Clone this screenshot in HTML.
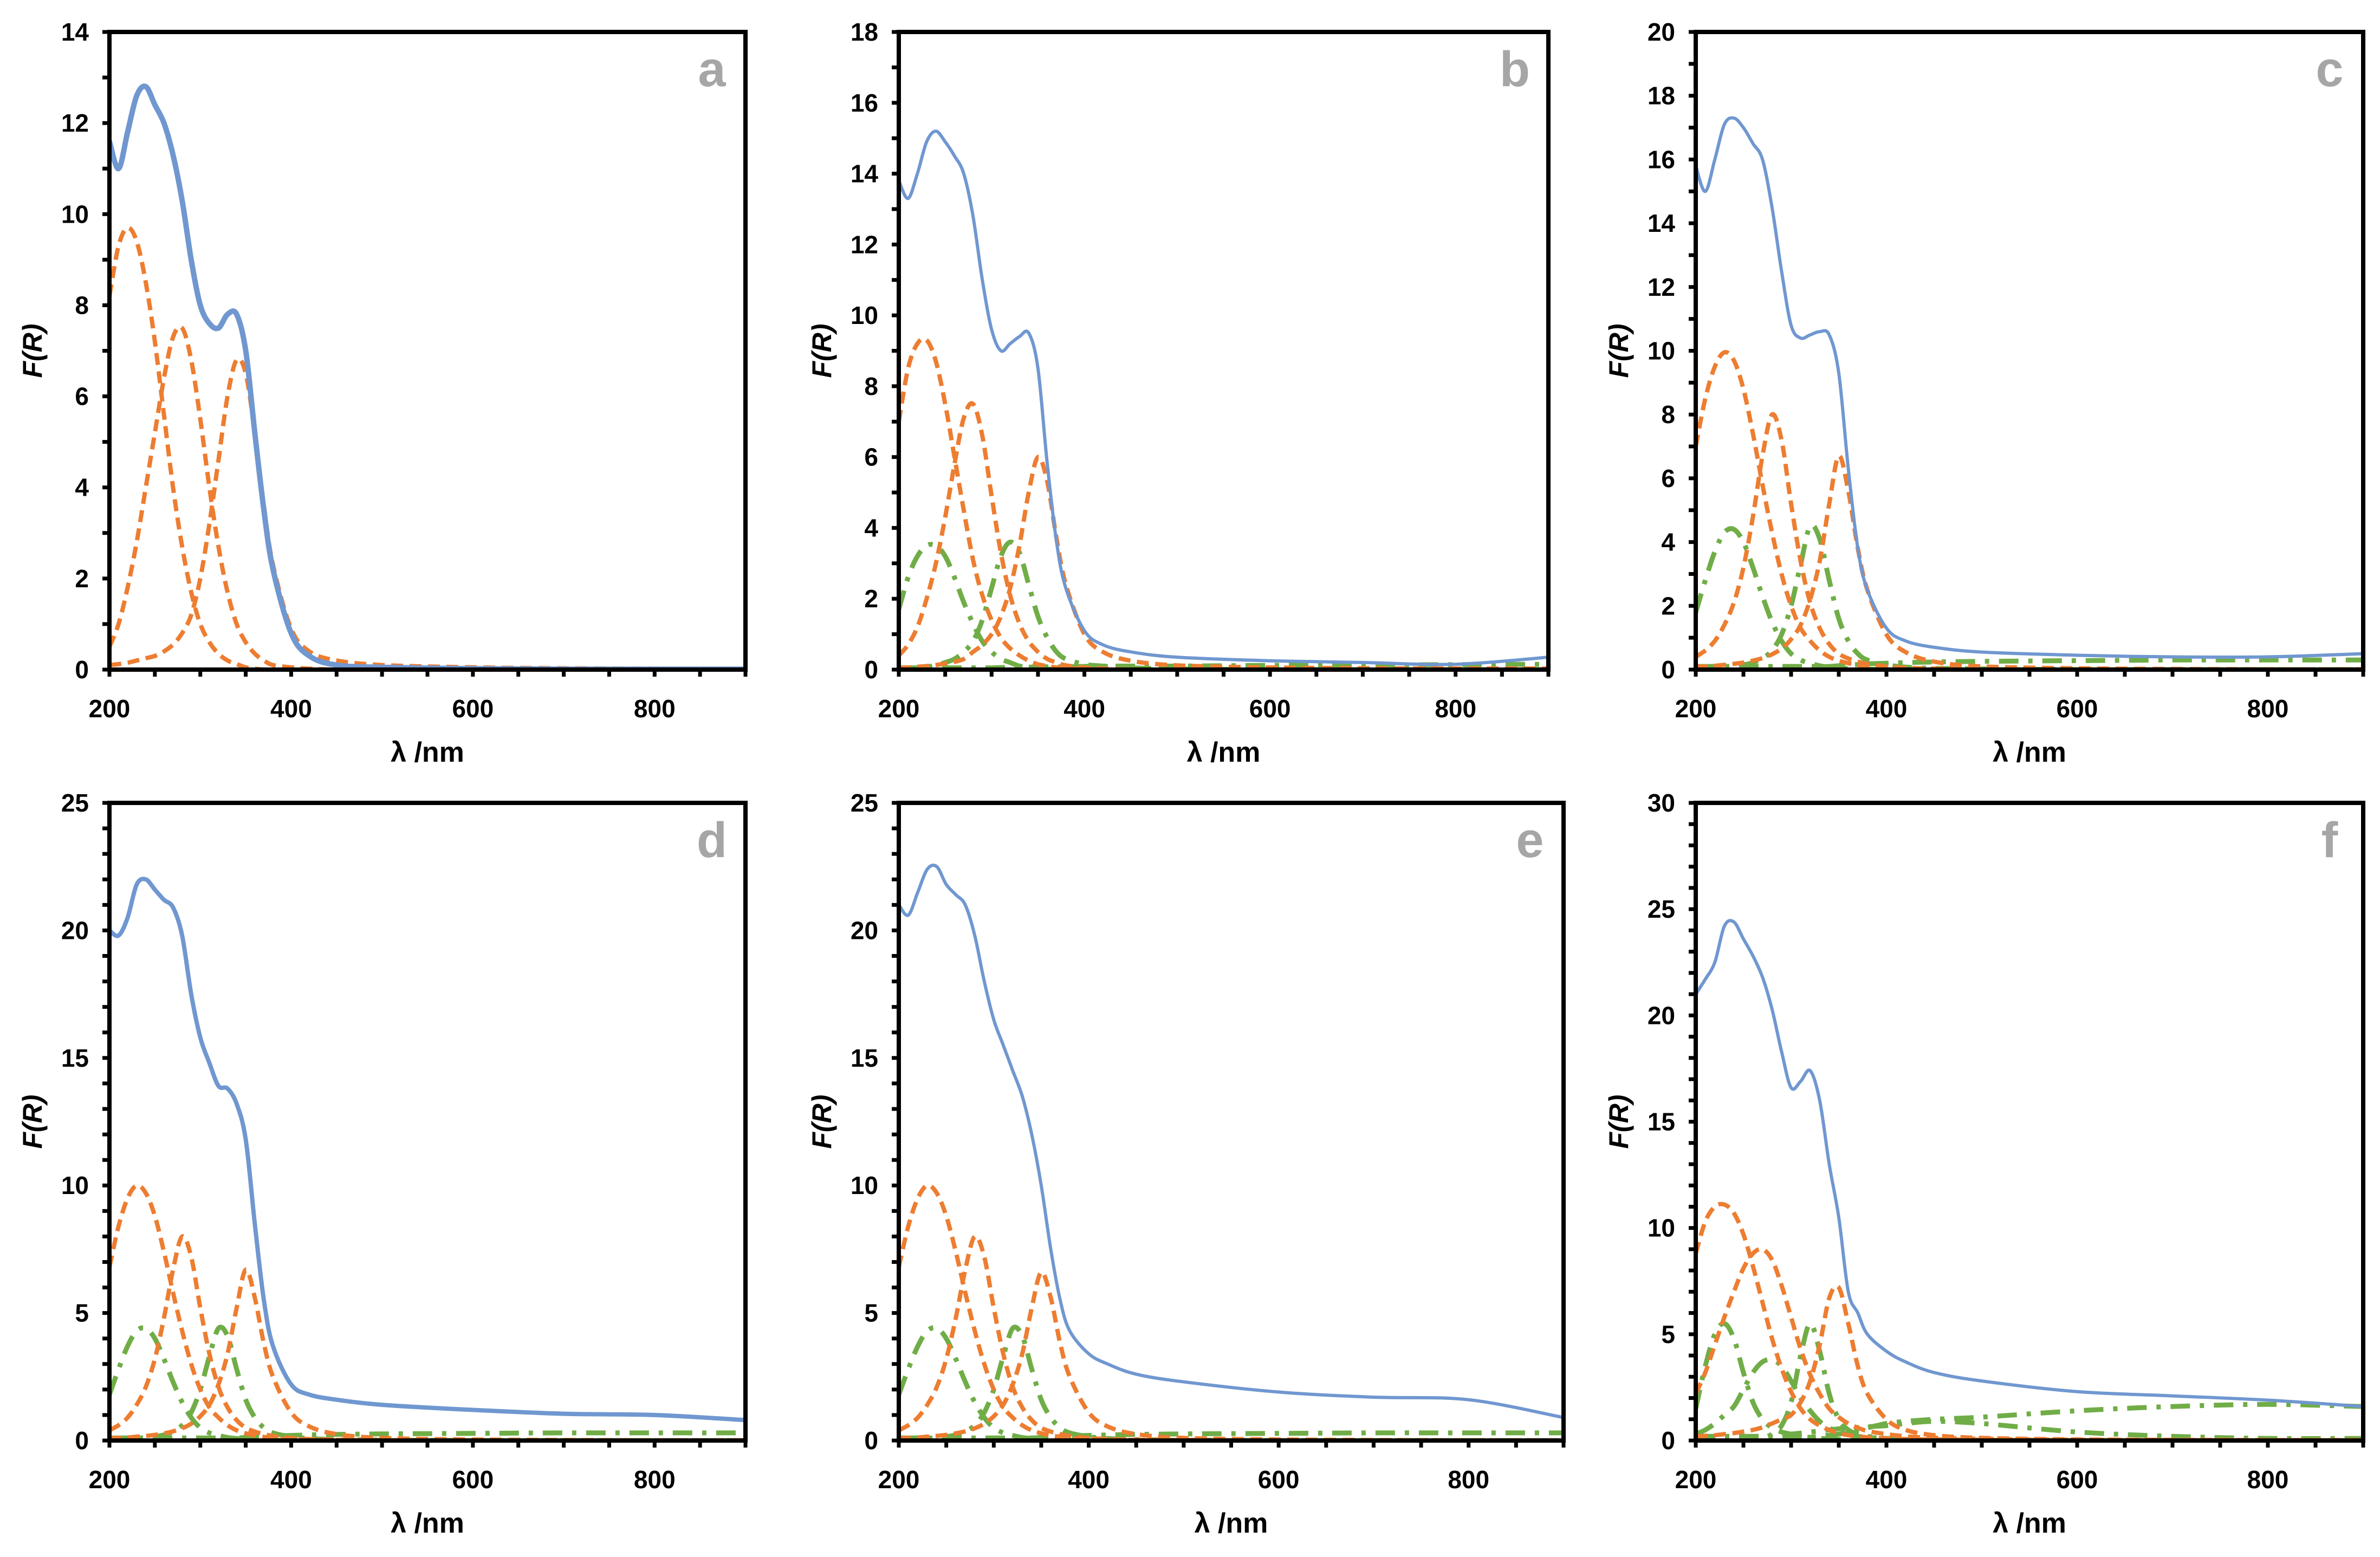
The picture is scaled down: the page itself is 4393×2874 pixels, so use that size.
<!DOCTYPE html>
<html><head><meta charset="utf-8">
<style>
html,body{margin:0;padding:0;background:#fff;}
svg{display:block;}
text{font-family:"Liberation Sans",sans-serif;}
</style></head>
<body>
<svg id="fig" width="4393" height="2874" viewBox="0 0 4393 2874" xmlns="http://www.w3.org/2000/svg"></svg>
<script>
// shared wavelength grid (nm)
const waves = [200,210,220,230,240,250,260,270,280,290,300,310,320,330,340,350,360,370,380,400,420,450,500,600,700,800,900];
const xTicks = [200,400,600,800];

// panel a
const aTotal = [11.6,11.0,11.8,12.6,12.8,12.4,12.0,11.3,10.3,9.0,8.0,7.6,7.5,7.8,7.8,7.0,5.2,3.5,2.2,0.8,0.3,0.1,0.05,0.02,0.01,0.01,0.01];
const aO1 = [8.2,9.3,9.7,9.4,8.5,7.2,5.6,4.0,2.7,1.7,1.0,0.6,0.35,0.2,0.12,0.05,0.02,0,0,0,0,0,0,0,0,0,0];
const aO2 = [0.5,1.0,1.8,2.8,4.0,5.2,6.4,7.3,7.5,6.8,5.5,4.0,2.7,1.7,1.0,0.6,0.35,0.2,0.1,0.05,0.02,0,0,0,0,0,0];
const aO3 = [0.1,0.12,0.15,0.2,0.25,0.3,0.4,0.55,0.8,1.2,2.0,3.2,4.6,6.0,6.8,6.5,5.2,3.6,2.3,0.9,0.4,0.2,0.1,0.05,0.03,0.02,0.02];

// panel b
const bTotal = [13.8,13.3,14.0,14.9,15.2,14.9,14.5,14.0,12.8,11.0,9.6,9.0,9.2,9.4,9.5,8.5,5.8,3.6,2.3,1.1,0.7,0.5,0.35,0.25,0.2,0.15,0.35];
const bO1 = [7.0,8.5,9.2,9.3,8.7,7.5,6.0,4.5,3.1,2.1,1.4,0.9,0.6,0.4,0.25,0.15,0.1,0.06,0.04,0.02,0,0,0,0,0,0,0];
const bO2 = [0.4,0.7,1.2,2.0,3.0,4.3,5.8,7.1,7.5,6.6,4.9,3.3,2.1,1.3,0.8,0.5,0.3,0.2,0.12,0.06,0.03,0,0,0,0,0,0];
const bO3 = [0.05,0.06,0.08,0.1,0.13,0.17,0.22,0.3,0.5,0.7,1.0,1.5,2.3,3.5,5.0,6.0,5.3,3.7,2.4,1.0,0.5,0.25,0.12,0.06,0.04,0.03,0.03];
const bG1 = [1.7,2.6,3.2,3.5,3.5,3.2,2.6,1.9,1.3,0.8,0.5,0.3,0.2,0.1,0.06,0.04,0.02,0,0,0,0,0,0,0,0,0,0];
const bG2 = [0,0,0.05,0.08,0.12,0.2,0.3,0.5,0.8,1.4,2.3,3.2,3.6,3.3,2.4,1.5,0.9,0.5,0.3,0.15,0.1,0.05,0.02,0,0,0,0];
const bG3 = [0.05,0.05,0.05,0.05,0.05,0.05,0.05,0.05,0.05,0.05,0.05,0.06,0.06,0.06,0.07,0.07,0.08,0.08,0.08,0.09,0.1,0.1,0.1,0.12,0.13,0.14,0.15];

// panel c
const cTotal = [15.8,15.0,16.0,17.1,17.3,17.0,16.5,16.0,14.5,12.5,10.8,10.4,10.5,10.6,10.5,9.3,6.3,3.8,2.5,1.3,0.9,0.7,0.55,0.45,0.4,0.4,0.5];
const cO1 = [7.0,8.5,9.5,9.95,9.7,8.8,7.4,5.8,4.3,3.0,2.0,1.3,0.9,0.6,0.4,0.28,0.2,0.14,0.1,0.06,0.04,0.02,0.01,0,0,0,0];
const cO2 = [0.4,0.6,0.9,1.4,2.1,3.2,4.8,6.7,8.0,7.2,5.2,3.4,2.1,1.3,0.8,0.5,0.35,0.25,0.18,0.1,0.06,0.03,0.02,0,0,0,0];
const cO3 = [0.1,0.1,0.12,0.15,0.18,0.22,0.28,0.36,0.48,0.66,0.95,1.4,2.2,3.4,5.2,6.7,5.6,3.8,2.5,1.1,0.55,0.25,0.1,0.04,0.02,0.01,0.01];
const cG1 = [1.8,2.8,3.7,4.3,4.4,4.0,3.2,2.3,1.5,0.9,0.5,0.3,0.2,0.12,0.08,0.05,0.03,0.02,0.01,0,0,0,0,0,0,0,0];
const cG2 = [0,0,0.05,0.08,0.1,0.15,0.22,0.35,0.6,1.1,2.0,3.3,4.5,4.1,2.8,1.6,0.9,0.5,0.3,0.15,0.08,0.04,0.02,0,0,0,0];
const cG3 = [0.1,0.1,0.1,0.1,0.1,0.1,0.1,0.1,0.1,0.1,0.1,0.1,0.1,0.1,0.1,0.12,0.14,0.16,0.18,0.2,0.22,0.24,0.26,0.28,0.3,0.3,0.3];

// panel d
const dTotal = [20.0,19.8,20.5,21.8,22.0,21.6,21.2,20.9,19.8,17.5,15.8,14.8,13.9,13.8,13.2,11.8,8.5,5.5,3.7,2.2,1.8,1.6,1.4,1.2,1.05,1.0,0.8];
const dO1 = [6.8,8.4,9.5,10.0,9.7,8.8,7.4,5.8,4.3,3.0,2.0,1.3,0.9,0.6,0.4,0.28,0.2,0.14,0.1,0.06,0.04,0.02,0.01,0,0,0,0];
const dO2 = [0.4,0.6,0.9,1.4,2.1,3.2,4.8,6.7,8.0,7.2,5.2,3.4,2.1,1.3,0.8,0.5,0.35,0.25,0.18,0.1,0.06,0.03,0.02,0,0,0,0];
const dO3 = [0.1,0.1,0.12,0.15,0.18,0.22,0.28,0.36,0.48,0.66,0.95,1.4,2.2,3.4,5.2,6.7,5.6,3.8,2.5,1.1,0.55,0.25,0.1,0.04,0.02,0.01,0.01];
const dG1 = [1.8,2.8,3.7,4.3,4.4,4.0,3.2,2.3,1.5,0.9,0.5,0.3,0.2,0.12,0.08,0.05,0.03,0.02,0.01,0,0,0,0,0,0,0,0];
const dG2 = [0,0,0.05,0.08,0.1,0.15,0.22,0.35,0.6,1.1,2.0,3.3,4.4,4.1,2.8,1.6,0.9,0.5,0.3,0.15,0.08,0.04,0.02,0,0,0,0];
const dG3 = [0.1,0.1,0.1,0.1,0.1,0.1,0.1,0.1,0.1,0.1,0.1,0.1,0.1,0.1,0.1,0.12,0.14,0.16,0.18,0.2,0.22,0.24,0.26,0.28,0.3,0.3,0.3];

// panel e
const eTotal = [21.0,20.6,21.5,22.4,22.5,21.8,21.4,21.0,19.8,18.0,16.5,15.5,14.5,13.5,12.0,10.0,7.5,5.5,4.3,3.4,3.0,2.6,2.3,1.9,1.7,1.6,0.9];
const eO1 = [6.8,8.4,9.5,10.0,9.7,8.8,7.4,5.8,4.3,3.0,2.0,1.3,0.9,0.6,0.4,0.28,0.2,0.14,0.1,0.06,0.04,0.02,0.01,0,0,0,0];
const eO2 = [0.4,0.6,0.9,1.4,2.1,3.2,4.8,6.7,8.0,7.2,5.2,3.4,2.1,1.3,0.8,0.5,0.35,0.25,0.18,0.1,0.06,0.03,0.02,0,0,0,0];
const eO3 = [0.1,0.1,0.12,0.15,0.18,0.22,0.28,0.36,0.48,0.66,0.95,1.4,2.2,3.4,5.2,6.6,5.6,3.8,2.5,1.1,0.55,0.25,0.1,0.04,0.02,0.01,0.01];
const eG1 = [1.8,2.8,3.7,4.3,4.4,4.0,3.2,2.3,1.5,0.9,0.5,0.3,0.2,0.12,0.08,0.05,0.03,0.02,0.01,0,0,0,0,0,0,0,0];
const eG2 = [0,0,0.05,0.08,0.1,0.15,0.22,0.35,0.6,1.1,2.0,3.3,4.4,4.1,2.8,1.6,0.9,0.5,0.3,0.15,0.08,0.04,0.02,0,0,0,0];
const eG3 = [0.1,0.1,0.1,0.1,0.1,0.1,0.1,0.1,0.1,0.1,0.1,0.1,0.1,0.1,0.1,0.12,0.14,0.16,0.18,0.2,0.22,0.24,0.26,0.28,0.3,0.3,0.3];

// panel f
const fTotal = [21.0,21.7,22.5,24.2,24.4,23.6,22.8,21.8,20.3,18.3,16.6,16.9,17.4,16.0,13.0,10.5,7.0,6.0,5.0,4.2,3.7,3.2,2.8,2.3,2.1,1.9,1.6];
const fO1 = [8.8,10.3,11.0,11.1,10.7,9.7,8.2,6.5,4.8,3.4,2.3,1.5,1.0,0.7,0.5,0.35,0.25,0.2,0.15,0.1,0.07,0.05,0.03,0.01,0,0,0];
const fO2 = [2.2,3.2,4.5,5.8,7.0,8.1,8.8,9.0,8.5,7.3,5.8,4.3,3.1,2.2,1.5,1.1,0.8,0.6,0.45,0.3,0.2,0.12,0.08,0.03,0.02,0.01,0.01];
const fO3 = [0.2,0.22,0.25,0.3,0.35,0.42,0.5,0.62,0.8,1.0,1.2,1.8,2.8,4.5,6.7,7.2,5.5,3.5,2.2,1.0,0.5,0.25,0.12,0.05,0.03,0.02,0.02];
const fG1 = [1.5,3.5,5.0,5.5,4.8,3.2,1.8,1.0,0.6,0.4,0.3,0.2,0.15,0.1,0.08,0.05,0.03,0.02,0.01,0,0,0,0,0,0,0,0];
const fG2 = [0.3,0.5,0.8,1.2,1.6,2.4,3.2,3.7,3.8,3.5,2.8,2.0,1.4,0.9,0.6,0.4,0.3,0.2,0.15,0.1,0.05,0.03,0.02,0,0,0,0];
const fG3 = [0,0,0,0,0.02,0.05,0.08,0.12,0.3,0.7,1.8,4.0,5.5,4.2,2.2,1.0,0.5,0.3,0.2,0.1,0.05,0.03,0.02,0,0,0,0];
const fG4 = [0,0,0,0,0,0,0,0.02,0.04,0.06,0.1,0.13,0.16,0.2,0.25,0.3,0.4,0.5,0.6,0.8,0.9,1.0,1.1,1.4,1.6,1.7,1.6];
const fG5 = [0.2,0.2,0.2,0.2,0.2,0.2,0.2,0.2,0.2,0.25,0.3,0.35,0.4,0.45,0.5,0.55,0.6,0.62,0.65,0.7,0.8,0.9,0.8,0.4,0.2,0.1,0.1];

const panels = [
  {id:'a', L:202, R:1376, T:59, B:1236, ymax:14, ymaj:2, ymin:1, total:aTotal, orange:[aO1,aO2,aO3], green:[], lw:10},
  {id:'b', L:1659, R:2858, T:59, B:1236, ymax:18, ymaj:2, ymin:1, total:bTotal, orange:[bO1,bO2,bO3], green:[bG1,bG2,bG3], lw:6},
  {id:'c', L:3130, R:4362, T:59, B:1236, ymax:20, ymaj:2, ymin:1, total:cTotal, orange:[cO1,cO2,cO3], green:[cG1,cG2,cG3], lw:6},
  {id:'d', L:202, R:1376, T:1482, B:2659, ymax:25, ymaj:5, ymin:1, total:dTotal, orange:[dO1,dO2,dO3], green:[dG1,dG2,dG3], lw:8},
  {id:'e', L:1659, R:2886, T:1482, B:2659, ymax:25, ymaj:5, ymin:1, total:eTotal, orange:[eO1,eO2,eO3], green:[eG1,eG2,eG3], lw:6},
  {id:'f', L:3130, R:4362, T:1482, B:2659, ymax:30, ymaj:5, ymin:1, total:fTotal, orange:[fO1,fO2,fO3], green:[fG1,fG2,fG3,fG4,fG5], lw:6}
];

const NS = 'http://www.w3.org/2000/svg';
const svg = document.getElementById('fig');
function mk(tag, attrs, parent){
  const e = document.createElementNS(NS, tag);
  for (const k in attrs) e.setAttribute(k, attrs[k]);
  parent.appendChild(e);
  return e;
}
function smoothPath(pts){
  let d = 'M' + pts[0][0].toFixed(1) + ',' + pts[0][1].toFixed(1);
  for (let i = 0; i < pts.length - 1; i++){
    const p0 = pts[Math.max(0,i-1)], p1 = pts[i], p2 = pts[i+1], p3 = pts[Math.min(pts.length-1,i+2)];
    const c1x = p1[0] + (p2[0]-p0[0])/6, c1y = p1[1] + (p2[1]-p0[1])/6;
    const c2x = p2[0] - (p3[0]-p1[0])/6, c2y = p2[1] - (p3[1]-p1[1])/6;
    d += 'C' + c1x.toFixed(1)+','+c1y.toFixed(1)+' '+c2x.toFixed(1)+','+c2y.toFixed(1)+' '+p2[0].toFixed(1)+','+p2[1].toFixed(1);
  }
  return d;
}

panels.forEach(p => {
  const g = mk('g', {}, svg);
  
  
  const xs = v => p.L + (v - 200) / 700 * (p.R - p.L);
  const ys = v => p.B - v / p.ymax * (p.B - p.T);
  const toPts = arr => waves.map((w, i) => [xs(w), ys(Math.max(0, arr[i]))]);

  // curves (clipped)
  const clipId = 'clip-' + p.id;
  const cp = mk('clipPath', {id: clipId}, g);
  mk('rect', {x: p.L, y: p.T, width: p.R - p.L, height: p.B - p.T}, cp);
  const cg = mk('g', {'clip-path': 'url(#' + clipId + ')'}, g);

  p.green.forEach((arr, i) => {
    const path = mk('path', {d: smoothPath(toPts(arr)), fill: 'none', stroke: '#70ad47', 'stroke-width': 9, 'stroke-dasharray': '36 18 8 18', 'stroke-linecap': 'butt'}, cg);
    
    
  });
  p.orange.forEach((arr, i) => {
    const path = mk('path', {d: smoothPath(toPts(arr)), fill: 'none', stroke: '#ed7d31', 'stroke-width': 8, 'stroke-dasharray': '22 12'}, cg);
    
    
  });
  const tot = mk('path', {d: smoothPath(toPts(p.total)), fill: 'none', stroke: '#7097d0', 'stroke-width': p.lw, 'stroke-linejoin': 'round'}, cg);
  
  

  // ticks
  for (let v = 0; v <= p.ymax + 1e-9; v += p.ymin){
    mk('line', {x1: p.L - 13, x2: p.L, y1: ys(v), y2: ys(v), stroke: '#000', 'stroke-width': 7}, g);
  }
  for (let w = 200; w <= 900; w += 50){
    mk('line', {x1: xs(w), x2: xs(w), y1: p.B, y2: p.B + 13, stroke: '#000', 'stroke-width': 7}, g);
  }
  // frame
  const fr = mk('rect', {x: p.L, y: p.T, width: p.R - p.L, height: p.B - p.T, fill: 'none', stroke: '#000', 'stroke-width': 8}, g);
  
  

  // y labels
  for (let v = 0; v <= p.ymax + 1e-9; v += p.ymaj){
    const t = mk('text', {x: p.L - 38, y: ys(v) + 16, 'text-anchor': 'end', 'font-size': 46, 'font-weight': 'bold', fill: '#000'}, g);
    t.textContent = v;
    
    
  }
  xTicks.forEach(w => {
    const t = mk('text', {x: xs(w), y: p.B + 88, 'text-anchor': 'middle', 'font-size': 46, 'font-weight': 'bold', fill: '#000'}, g);
    t.textContent = w;
    
    
  });
  // x title
  const xt = mk('text', {x: (p.L + p.R) / 2, y: p.B + 170, 'text-anchor': 'middle', 'font-size': 52, 'font-weight': 'bold', fill: '#000'}, g);
  xt.textContent = 'λ /nm';
  
  
  // y title
  const cy = (p.T + p.B) / 2;
  const yt = mk('text', {x: 0, y: 0, transform: 'translate(' + (p.L - 125) + ',' + cy + ') rotate(-90)', 'text-anchor': 'middle', 'font-size': 50, 'font-weight': 'bold', 'font-style': 'italic', fill: '#000'}, g);
  yt.textContent = 'F(R)';
  
  
  // panel letter
  const pl = mk('text', {x: p.R - 62, y: p.T + 100, 'text-anchor': 'middle', 'font-size': 92, 'font-weight': 'bold', fill: '#a6a6a6'}, g);
  pl.textContent = p.id;
  
  
});
</script>
</body></html>
